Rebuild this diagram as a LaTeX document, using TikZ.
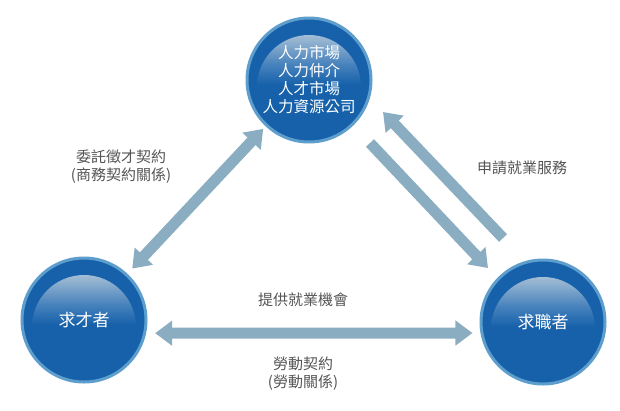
\documentclass[tikz,border=0pt]{standalone}
\usepackage{fontspec}
\usepackage{xcolor}
\usepackage{tikz}
\usetikzlibrary{arrows.meta}
\newfontfamily\cjk{Noto Sans CJK TC}

\definecolor{ballrim}{HTML}{5D9ECD}
\definecolor{ballblue}{HTML}{1661AA}
\definecolor{glossmid}{HTML}{94B3D0}
\definecolor{glossbot}{HTML}{4581BC}
\definecolor{glosstop}{HTML}{CFDCE8}
\definecolor{linkblue}{HTML}{8AADC1}
\definecolor{labelgray}{HTML}{555555}

\pgfdeclareverticalshading{gloss}{100bp}{color(0bp)=(ballblue); color(48bp)=(ballblue); color(56bp)=(glossbot); color(66bp)=(glossmid); color(75bp)=(glosstop); color(100bp)=(glosstop)}

\tikzset{
    ball/.style={circle, minimum size=124pt, inner sep=0pt, fill=ballblue, draw=ballrim, line width=3pt,
        text=white, align=center, font=\cjk\fontsize{15.5}{18}\selectfont,
        path picture={\shade[shading=gloss] ([yshift=-7pt]path picture bounding box.center) circle (52pt);}},
    lbl/.style={text=labelgray, align=center, font=\cjk\fontsize{15}{18}\selectfont},
    tipend/.tip={Triangle[width=24pt,length=17pt]},
    link/.style={draw=linkblue, line width=11pt, -tipend},
    both/.style={draw=linkblue, line width=11pt, tipend-tipend}
}

\begin{document}
\begin{tikzpicture}[x=1pt, y=-1pt]
    \fill[white] (0,0) rectangle (620,410);
    \useasboundingbox (0,0) rectangle (620,410);

    \node[ball] (market) at (309,80) {人力市場\\人力仲介\\人才市場\\人力資源公司};
    \node[ball, font=\cjk\fontsize{17}{20}\selectfont] (employer) at (84,320) {求才者};
    \node[ball, font=\cjk\fontsize{17}{20}\selectfont] (seeker) at (543,322) {求職者};

    \draw[both, shorten <=7pt, shorten >=3.5pt] (employer) -- (market);
    \draw[both, shorten <=9pt, shorten >=8pt] (employer.-12) -- (seeker.-170);
    \draw[link] ([shift={(61,63)}]market.center) -- ([shift={(-55,-54)}]seeker.center);
    \draw[link] ([shift={(-40,-84)}]seeker.center) -- ([shift={(74,32)}]market.center);

    \node[lbl] (commission) at (121,167) {委託徵才契約\\(商務契約關係)};
    \node[lbl] (apply) at (522,168) {申請就業服務};
    \node[lbl] (offer) at (303,300) {提供就業機會};
    \node[lbl] (labour) at (303,374) {勞動契約\\(勞動關係)};
\end{tikzpicture}
\end{document}
